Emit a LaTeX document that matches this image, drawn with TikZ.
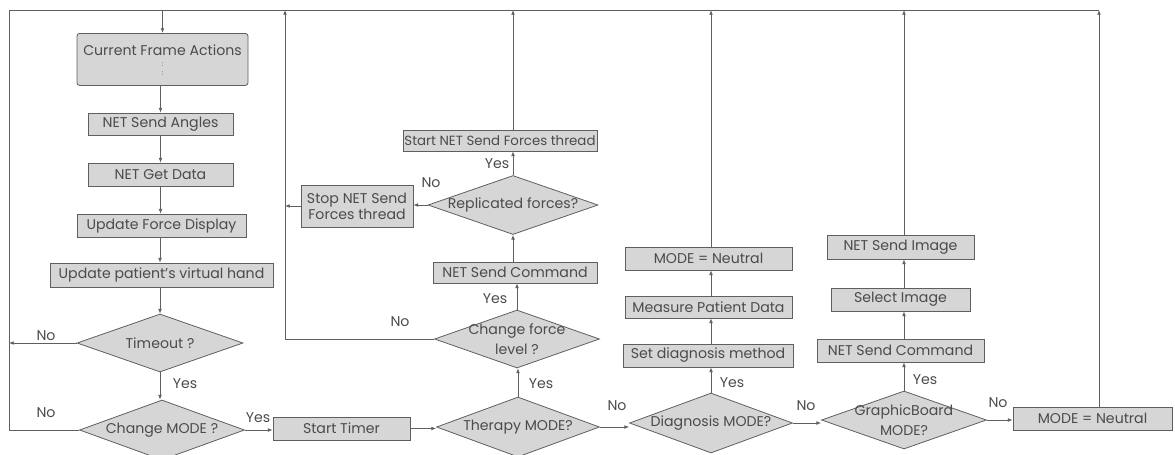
\documentclass[tikz,border=0pt]{standalone}
\usepackage{fontspec}
\setmainfont{Poppins}
\usetikzlibrary{shapes.geometric,arrows.meta}
\definecolor{ln}{RGB}{95,95,95}
\definecolor{fl}{RGB}{214,214,214}
\definecolor{tx}{RGB}{75,75,75}
\newcommand{\zw}[1]{\makebox[0pt][c]{#1}}
\begin{document}
\begin{tikzpicture}[x=0.75pt,y=-0.75pt,
  every node/.style={font=\fontsize{10.6}{12}\selectfont,text=tx},
  pbox/.style={draw=ln,fill=fl,rectangle,inner sep=0pt,line width=0.6pt},
  dec/.style={draw=ln,fill=fl,diamond,aspect=2.8,inner sep=0pt,line width=0.6pt,align=center},
  arr/.style={draw=ln,line width=0.6pt,-{Latex[length=3.5pt,width=2.8pt]}},
  ln/.style={draw=ln,line width=0.6pt},
  lab/.style={inner sep=0pt}]
\useasboundingbox (0,0) rectangle (1175,454);
% column 1
\node[pbox,rounded corners=2pt,minimum width=171*0.75pt,minimum height=52*0.75pt,align=center,anchor=north] (cfa) at (162.5,33) {\rule{0pt}{9pt}Current Frame Actions\\[-4pt]{\tiny :}\\[-5pt]{\tiny :}};
\node[pbox,minimum width=145*0.75pt,minimum height=22*0.75pt] (nsa) at (160.5,124) {NET Send Angles};
\node[pbox,minimum width=145*0.75pt,minimum height=23*0.75pt] (ngd) at (160.5,174.5) {NET Get Data};
\node[pbox,minimum width=169*0.75pt,minimum height=23*0.75pt] (ufd) at (161.5,225.5) {Update Force Display};
\node[pbox,minimum width=223*0.75pt,minimum height=24*0.75pt] (upv) at (161.5,275) {Update patient's virtual hand};
\node[dec,minimum width=166*0.75pt,minimum height=58*0.75pt] (tmo) at (160,343) {\zw{Timeout ?}};
\node[dec,minimum width=165*0.75pt,minimum height=60*0.75pt] (cmo) at (162,430) {\zw{Change MODE ?}};
\node[pbox,minimum width=137*0.75pt,minimum height=23*0.75pt] (st) at (341.5,428.5) {Start Timer};
% therapy column
\node[dec,minimum width=163*0.75pt,minimum height=60*0.75pt] (thm) at (518,427) {\zw{Therapy MODE?}};
\node[dec,minimum width=165*0.75pt,minimum height=58*0.75pt] (cfl) at (517,339) {\zw{Change force}\\[3pt]\zw{level ?}};
\node[pbox,minimum width=164*0.75pt,minimum height=21*0.75pt] (nsc1) at (515,272.5) {NET Send Command};
\node[dec,minimum width=170*0.75pt,minimum height=59*0.75pt] (rep) at (513,205) {\zw{Replicated forces?}};
\node[pbox,minimum width=194*0.75pt,minimum height=21*0.75pt,font=\fontsize{10}{12}\selectfont] (snf) at (500,140.5) {Start NET Send Forces thread};
\node[pbox,minimum width=112*0.75pt,minimum height=42*0.75pt,align=center] (stop) at (357,206) {Stop NET Send\\[0pt]Forces thread};
% diagnosis column
\node[dec,minimum width=163*0.75pt,minimum height=60*0.75pt] (dgm) at (711,423) {\zw{Diagnosis MODE?}};
\node[pbox,minimum width=170*0.75pt,minimum height=23*0.75pt] (sdm) at (708,355.5) {Set diagnosis method};
\node[pbox,minimum width=167*0.75pt,minimum height=22*0.75pt] (mpd) at (708.5,307) {Measure Patient Data};
\node[pbox,minimum width=167*0.75pt,minimum height=23*0.75pt] (mn1) at (708.5,258.5) {MODE = Neutral};
% graphicboard column
\node[dec,minimum width=165*0.75pt,minimum height=58*0.75pt] (gbm) at (904,420) {\zw{GraphicBoard}\\[3pt]\zw{MODE?}};
\node[pbox,minimum width=167*0.75pt,minimum height=23*0.75pt] (nsc2) at (900.5,350.5) {NET Send Command};
\node[pbox,minimum width=139*0.75pt,minimum height=23*0.75pt] (si) at (900.5,299.5) {Select Image};
\node[pbox,minimum width=147*0.75pt,minimum height=24*0.75pt] (nsi) at (900.5,247) {NET Send Image};
\node[pbox,minimum width=159*0.75pt,minimum height=23*0.75pt] (mn2) at (1092.5,418.5) {MODE = Neutral};
% top line coordinates
\coordinate (L) at (9,10);
\coordinate (R) at (1099,10);
\coordinate (T1) at (285,10);
\draw[ln] (L) -- (R);
% column 1 connectors
\draw[arr] (cmo.west) -| (L) -| (cfa.north);
\draw[arr] (cfa.south -| nsa.north) -- (nsa.north);
\draw[arr] (nsa.south) -- (ngd.north);
\draw[arr] (ngd.south) -- (ngd.south |- ufd.north);
\draw[arr] (ufd.south -| tmo.north) -- (tmo.north |- upv.north);
\draw[arr] (upv.south -| tmo.north) -- (tmo.north);
\draw[arr] (tmo.west) -- (tmo.west -| L);
\draw[arr] (tmo.south) -- (tmo.south |- cmo.north);
\draw[arr] (cmo.east) -- (cmo.east -| st.west);
\draw[arr] (st.east) -- (st.east -| thm.west);
% therapy connectors
\draw[arr] (thm.north) -- (thm.north |- cfl.south);
\draw[arr] (cfl.north) -- (cfl.north |- nsc1.south);
\draw[arr] (cfl.west) -| (T1);
\draw[arr] (nsc1.north -| rep.south) -- (rep.south);
\draw[arr] (rep.north) -- (rep.north |- snf.south);
\draw[arr] (rep.west) -- (rep.west -| stop.east);
\draw[arr] (stop.west) -- (stop.west -| T1);
\draw[arr] (snf.north -| rep.north) -- (rep.north |- L);
% diagnosis connectors
\draw[arr] (thm.east) -- (thm.east -| dgm.west);
\draw[arr] (dgm.north) -- (dgm.north |- sdm.south);
\draw[arr] (sdm.north -| dgm.north) -- (dgm.north |- mpd.south);
\draw[arr] (mpd.north -| dgm.north) -- (dgm.north |- mn1.south);
\draw[arr] (mn1.north -| dgm.north) -- (dgm.north |- L);
% graphicboard connectors
\draw[arr] (dgm.east) -- (dgm.east -| gbm.west);
\draw[arr] (gbm.north) -- (gbm.north |- nsc2.south);
\draw[arr] (nsc2.north -| gbm.north) -- (gbm.north |- si.south);
\draw[arr] (si.north -| gbm.north) -- (gbm.north |- nsi.south);
\draw[arr] (nsi.north -| gbm.north) -- (gbm.north |- L);
\draw[arr] (gbm.east) -- (gbm.east -| mn2.west);
\draw[arr] (mn2.north -| R) -- (R);
% labels
\node[lab] (l1) at (46,336) {No};
\node[lab] (l2) at (46,413) {No};
\node[lab] (l3) at (185,384) {Yes};
\node[lab] (l4) at (258,418) {Yes};
\node[lab] (l5) at (541,384) {Yes};
\node[lab] (l6) at (400,322) {No};
\node[lab] (l7) at (495,299) {Yes};
\node[lab] (l8) at (497,164) {Yes};
\node[lab] (l9) at (431,183) {No};
\node[lab] (l10) at (617,406) {No};
\node[lab] (l11) at (732,383) {Yes};
\node[lab] (l12) at (806,406) {No};
\node[lab] (l13) at (925,380) {Yes};
\node[lab] (l14) at (998,403) {No};
\end{tikzpicture}
\end{document}
